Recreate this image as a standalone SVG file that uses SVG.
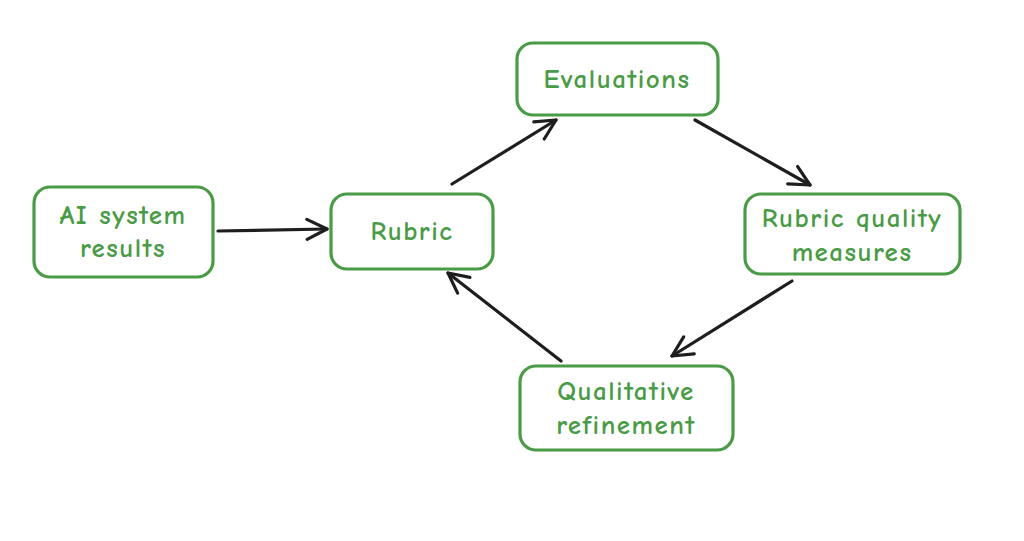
<svg xmlns="http://www.w3.org/2000/svg" width="1024" height="541" viewBox="0 0 1024 541">
<style>
.box{fill:#ffffff;stroke:#4a9b46;stroke-width:3.2}
.lbl{fill:#4a9b46;font-family:"Comic Neue","Lato","Noto Sans",sans-serif;font-size:27px;font-weight:bold;text-anchor:middle;letter-spacing:1.5px}
.edge{fill:none;stroke:#1e1e1e;stroke-width:3.2;stroke-linecap:round;stroke-linejoin:round}
</style>
<defs>
<marker id="ah" viewBox="0 0 24 24" refX="22" refY="12" markerWidth="24" markerHeight="24" markerUnits="userSpaceOnUse" orient="auto">
<path d="M2,2 L22,12 L2,22" fill="none" stroke="#1e1e1e" stroke-width="3.2" stroke-linecap="round" stroke-linejoin="round"/>
</marker>
</defs>
<rect width="1024" height="541" fill="#ffffff"/>
<g id="connectors">
<path class="edge" d="M218,231 L327,229" marker-end="url(#ah)"/>
<path class="edge" d="M452,184 L556,120" marker-end="url(#ah)"/>
<path class="edge" d="M695,120 L810,185" marker-end="url(#ah)"/>
<path class="edge" d="M792,281 L672,356" marker-end="url(#ah)"/>
<path class="edge" d="M561,361 L448,273" marker-end="url(#ah)"/>
</g>
<g id="node-ai">
<rect class="box" x="34" y="187" width="179" height="90" rx="16"/>
<text class="lbl" x="123" y="224">AI system</text>
<text class="lbl" x="123" y="257">results</text>
</g>
<g id="node-rubric">
<rect class="box" x="331" y="194" width="162" height="75" rx="16"/>
<text class="lbl" x="412" y="240">Rubric</text>
</g>
<g id="node-evaluations">
<rect class="box" x="517" y="43" width="201" height="72" rx="16"/>
<text class="lbl" x="617" y="88">Evaluations</text>
</g>
<g id="node-rqm">
<rect class="box" x="745" y="194" width="215" height="80" rx="16"/>
<text class="lbl" x="852" y="227">Rubric quality</text>
<text class="lbl" x="852" y="261">measures</text>
</g>
<g id="node-qr">
<rect class="box" x="520" y="366" width="213" height="84" rx="16"/>
<text class="lbl" x="626" y="400">Qualitative</text>
<text class="lbl" x="626" y="434">refinement</text>
</g>
</svg>
